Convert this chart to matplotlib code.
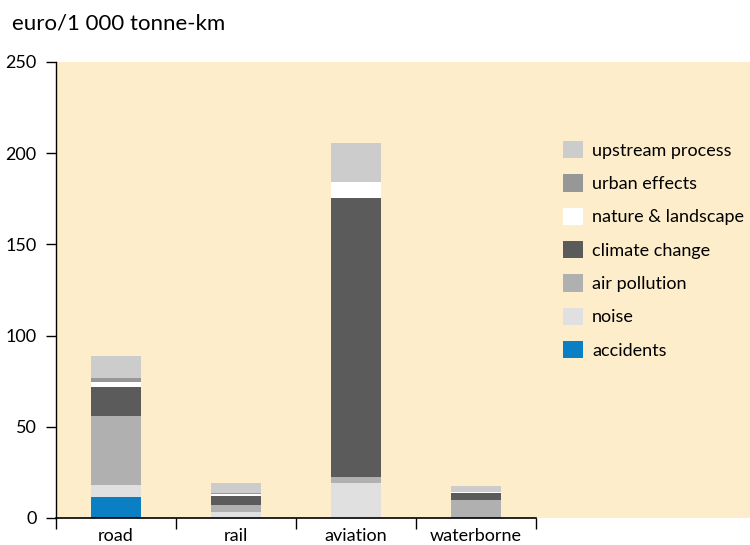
import matplotlib
matplotlib.use("Agg")
import matplotlib.pyplot as plt
import numpy as np

plt.rcParams['font.family'] = ['Lato', 'DejaVu Sans']

categories = ["road", "rail", "aviation", "waterborne"]
series_names = ["accidents", "noise", "air pollution", "climate change",
                "nature & landscape", "urban effects", "upstream process"]
accidents = [11.5, 0.0, 0.0, 0.0]
noise = [6.5, 3.5, 19.4, 0.0]
air_pollution = [38.0, 3.5, 3.3, 9.7]
climate_change = [15.6, 5.3, 153.0, 4.2]
nature_landscape = [3.1, 0.7, 8.3, 0.5]
urban_effects = [2.2, 0.5, 0.0, 0.0]
upstream_process = [12.1, 5.5, 21.5, 3.3]
series_values = [accidents, noise, air_pollution, climate_change,
                 nature_landscape, urban_effects, upstream_process]
colors = ["#0a7fc4", "#e0e0e0", "#b0b0b0", "#5b5b5b", "#ffffff", "#979797", "#cccccc"]
yticks = [0, 50, 100, 150, 200, 250]

fig = plt.figure(figsize=(7.5, 5.45), dpi=100)
ax = fig.add_axes([56/750, 1 - 518/545, 694/750, 456/545])
bg = "#fdedca"
ax.set_facecolor(bg)

x = np.arange(len(categories))
bottom = np.zeros(len(categories))
handles = []
for name, vals, c in zip(series_names, series_values, colors):
    vals = np.array(vals)
    b = ax.bar(x, vals, width=0.41, bottom=bottom, color=c, label=name,
               edgecolor="none", zorder=2)
    handles.append(b)
    bottom += vals

ax.set_xlim(-0.5, -0.5 + 694/120)
ax.set_ylim(0, 250)
ax.set_yticks(yticks)
ax.set_yticklabels([str(v) for v in yticks], fontsize=13)
ax.tick_params(axis='y', direction='out', length=7, width=1, pad=7)

ax.set_xticks(np.arange(-0.5, len(categories), 1.0))
ax.set_xticklabels([])
ax.set_xticks(x, minor=True)
ax.set_xticklabels(categories, minor=True, fontsize=13)
ax.tick_params(axis='x', which='major', direction='out', length=8, width=1)
ax.tick_params(axis='x', which='minor', length=0, pad=7)

for s in ["top", "right"]:
    ax.spines[s].set_visible(False)
ax.spines["bottom"].set_bounds(-0.5, len(categories) - 0.5)
ax.spines["left"].set_linewidth(1)
ax.spines["bottom"].set_linewidth(1.2)

fig.text(12/750, 1 - 24/545, "euro/1 000 tonne-km", fontsize=16, va="center", ha="left")

leg = ax.legend(handles[::-1], series_names[::-1], loc="upper left",
                bbox_to_anchor=(563/750, 1 - 141/545), bbox_transform=fig.transFigure,
                frameon=False, fontsize=13, handlelength=1.1, handleheight=1.1,
                labelspacing=0.86, handletextpad=0.5, borderaxespad=0,
                borderpad=0)

fig.savefig("out.png", dpi=100, facecolor="white")
